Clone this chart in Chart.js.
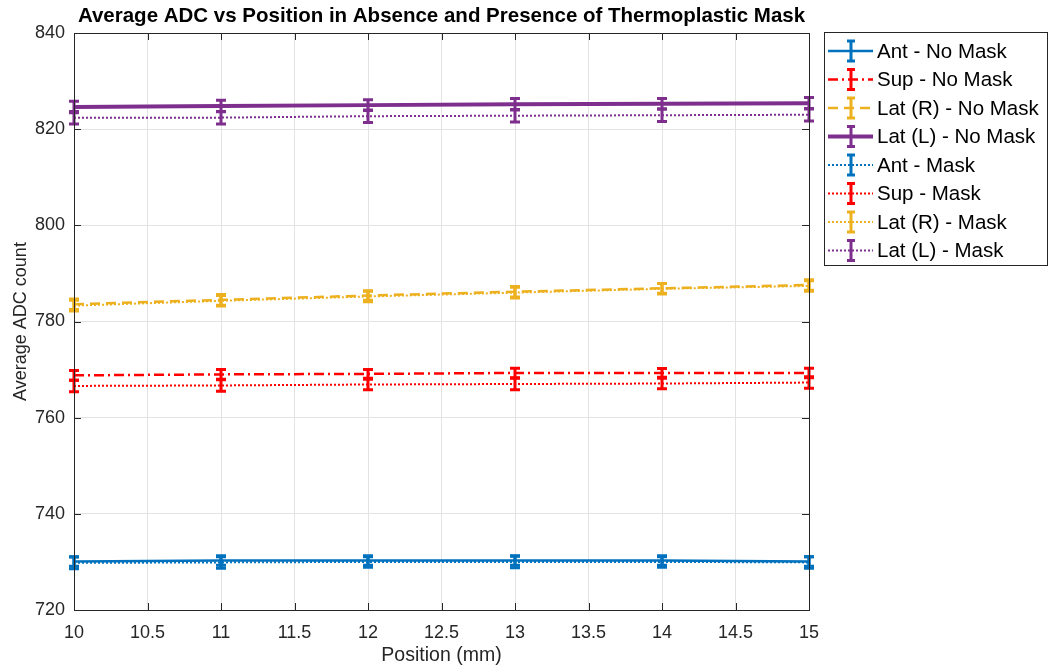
<!DOCTYPE html>
<html>
<head>
<meta charset="utf-8">
<title>Average ADC vs Position</title>
<script src="https://cdn.jsdelivr.net/npm/chart.js@4.4.1/dist/chart.umd.min.js"></script>
<style>
    html, body { margin: 0; padding: 0; background: #ffffff; }
    #wrap { width: 1052px; height: 667px; position: relative; }
</style>
</head>
<body>
<div id="wrap"><canvas id="adc-chart"></canvas></div>
<script>
// positions (mm)
const positions = [10, 11, 12, 13, 14, 15];

// average ADC counts per series
const antNoMask = [730.1, 730.3, 730.3, 730.3, 730.3, 730.1];
const supNoMask = [768.8, 769.0, 769.1, 769.3, 769.3, 769.3];
const latRNoMask = [783.6, 784.5, 785.4, 786.2, 786.9, 787.6];
const latLNoMask = [824.6, 824.8, 825.0, 825.2, 825.3, 825.4];
const antMask = [729.8, 729.9, 730.0, 730.0, 730.0, 729.9];
const supMask = [766.6, 766.7, 766.9, 767.0, 767.1, 767.3];
const latRMask = [783.3, 784.3, 785.2, 786.0, 786.8, 787.4];
const latLMask = [822.4, 822.4, 822.7, 822.8, 822.9, 823.0];

// error bar half-lengths
const antNoMaskErr = [1.0, 1.0, 1.0, 1.0, 1.0, 1.0];
const supNoMaskErr = [1.0, 1.0, 0.9, 1.0, 0.9, 1.0];
const latRNoMaskErr = [1.1, 1.1, 1.0, 1.1, 1.0, 1.1];
const latLNoMaskErr = [1.2, 1.2, 1.1, 1.2, 1.1, 1.2];
const antMaskErr = [1.2, 1.2, 1.1, 1.2, 1.1, 1.2];
const supMaskErr = [1.2, 1.2, 1.1, 1.2, 1.1, 1.2];
const latRMaskErr = [1.1, 1.1, 1.1, 1.1, 1.1, 1.1];
const latLMaskErr = [1.3, 1.3, 1.3, 1.3, 1.3, 1.3];

const blue = '#0072BD';
const red = '#FF0000';
const yellow = '#EDB120';
const purple = '#7E2F8E';
const FONT = '"Liberation Sans", Arial, Helvetica, sans-serif';

function makeSeries(label, values, errors, color, dash, width) {
    return {
        label: label,
        data: positions.map((p, i) => ({ x: p, y: values[i] })),
        errors: errors,
        borderColor: color,
        backgroundColor: color,
        borderDash: dash,
        borderWidth: width,
        pointRadius: 0,
        pointHoverRadius: 0,
        fill: false,
        tension: 0
    };
}

const datasets = [
    makeSeries('Ant - No Mask', antNoMask, antNoMaskErr, blue, [], 2.5),
    makeSeries('Sup - No Mask', supNoMask, supNoMaskErr, red, [10, 4, 2, 4], 2.5),
    makeSeries('Lat (R) - No Mask', latRNoMask, latRNoMaskErr, yellow, [10, 6], 2.5),
    makeSeries('Lat (L) - No Mask', latLNoMask, latLNoMaskErr, purple, [], 4),
    makeSeries('Ant - Mask', antMask, antMaskErr, blue, [2, 2], 2),
    makeSeries('Sup - Mask', supMask, supMaskErr, red, [2, 2], 2),
    makeSeries('Lat (R) - Mask', latRMask, latRMaskErr, yellow, [2, 2], 2),
    makeSeries('Lat (L) - Mask', latLMask, latLMaskErr, purple, [2, 2], 2)
];

function drawErrorBar(ctx, x, yTop, yBot, cap) {
    ctx.beginPath();
    ctx.moveTo(x, yTop);
    ctx.lineTo(x, yBot);
    ctx.moveTo(x - cap, yTop);
    ctx.lineTo(x + cap, yTop);
    ctx.moveTo(x - cap, yBot);
    ctx.lineTo(x + cap, yBot);
    ctx.stroke();
}

// error bars drawn from the dataset values through the scales
const errorBarPlugin = {
    id: 'errorBars',
    afterDatasetsDraw(chart) {
        const ctx = chart.ctx;
        const xs = chart.scales.x;
        const ys = chart.scales.y;
        ctx.save();
        chart.data.datasets.forEach(ds => {
            ctx.strokeStyle = ds.borderColor;
            ctx.lineWidth = 3;
            ctx.setLineDash([]);
            ds.data.forEach((pt, i) => {
                const e = ds.errors[i];
                drawErrorBar(ctx, xs.getPixelForValue(pt.x), ys.getPixelForValue(pt.y + e), ys.getPixelForValue(pt.y - e), 5);
            });
        });
        ctx.restore();
    }
};

// box around the axes with inward ticks, plus the boxed legend
const frameLegendPlugin = {
    id: 'frameLegend',
    afterDraw(chart) {
        const ctx = chart.ctx;
        const area = chart.chartArea;
        const xs = chart.scales.x;
        const ys = chart.scales.y;
        ctx.save();
        ctx.setLineDash([]);
        ctx.strokeStyle = '#262626';
        ctx.lineWidth = 1;
        ctx.strokeRect(Math.round(area.left) + 0.5, Math.round(area.top) + 0.5,
            Math.round(area.right - area.left), Math.round(area.bottom - area.top));
        ctx.beginPath();
        xs.ticks.forEach(t => {
            const px = Math.round(xs.getPixelForValue(t.value)) + 0.5;
            ctx.moveTo(px, area.bottom); ctx.lineTo(px, area.bottom - 7);
            ctx.moveTo(px, area.top); ctx.lineTo(px, area.top + 7);
        });
        ys.ticks.forEach(t => {
            const py = Math.round(ys.getPixelForValue(t.value)) + 0.5;
            ctx.moveTo(area.left, py); ctx.lineTo(area.left + 7, py);
            ctx.moveTo(area.right, py); ctx.lineTo(area.right - 7, py);
        });
        ctx.stroke();

        // legend
        const boxL = 824, boxT = 32, boxW = 224, boxH = 234;
        ctx.fillStyle = '#ffffff';
        ctx.fillRect(boxL, boxT, boxW, boxH);
        ctx.strokeStyle = '#262626';
        ctx.strokeRect(boxL + 0.5, boxT + 0.5, boxW - 1, boxH - 1);
        const rowH = 28.5;
        ctx.font = '20.5px ' + FONT;
        ctx.textBaseline = 'middle';
        chart.data.datasets.forEach((ds, i) => {
            const cy = boxT + 19 + i * rowH;
            ctx.strokeStyle = ds.borderColor;
            ctx.lineWidth = ds.borderWidth;
            ctx.setLineDash(ds.borderDash);
            ctx.beginPath();
            ctx.moveTo(828, cy);
            ctx.lineTo(873, cy);
            ctx.stroke();
            ctx.setLineDash([]);
            ctx.lineWidth = 3;
            drawErrorBar(ctx, 851, cy - 10, cy + 10, 4);
            ctx.fillStyle = '#000000';
            ctx.fillText(ds.label, 877, cy + 1);
        });
        ctx.restore();
    }
};

const ctx = document.getElementById('adc-chart').getContext('2d');
const adcChart = new Chart(ctx, {
    type: 'line',
    data: { datasets: datasets },
    options: {
        responsive: true,
        maintainAspectRatio: false,
        animation: false,
        events: [],
        layout: { padding: { left: 0, right: 243, top: 0, bottom: 0 } },
        plugins: {
            legend: { display: false },
            tooltip: { enabled: false },
            title: {
                display: true,
                fullSize: false,
                text: 'Average ADC vs Position in Absence and Presence of Thermoplastic Mask',
                color: '#000000',
                font: { family: FONT, size: 20.5, weight: 'bold', lineHeight: 1.2 },
                padding: { top: 4, bottom: 4.4 }
            }
        },
        scales: {
            x: {
                type: 'linear',
                min: 10,
                max: 15,
                ticks: {
                    stepSize: 0.5,
                    padding: 12,
                    color: '#262626',
                    font: { family: FONT, size: 18 },
                    maxRotation: 0,
                    autoSkip: false,
                    callback: value => String(Number(value))
                },
                grid: { color: '#e3e3e3', drawTicks: false },
                border: { display: false },
                title: {
                    display: true,
                    text: 'Position (mm)',
                    color: '#262626',
                    font: { family: FONT, size: 19.5, lineHeight: 1.2 },
                    padding: { top: 0, bottom: 0 }
                },
                afterFit(scale) { scale.height = 57; }
            },
            y: {
                min: 720,
                max: 840,
                ticks: {
                    stepSize: 20,
                    padding: 9,
                    color: '#262626',
                    font: { family: FONT, size: 18 }
                },
                grid: { color: '#e3e3e3', drawTicks: false },
                border: { display: false },
                title: {
                    display: true,
                    text: 'Average ADC count',
                    color: '#262626',
                    font: { family: FONT, size: 18, lineHeight: 1.2 },
                    padding: { top: 10, bottom: 0 }
                },
                afterFit(scale) { scale.width = 74; }
            }
        }
    },
    plugins: [errorBarPlugin, frameLegendPlugin]
});
</script>
</body>
</html>
